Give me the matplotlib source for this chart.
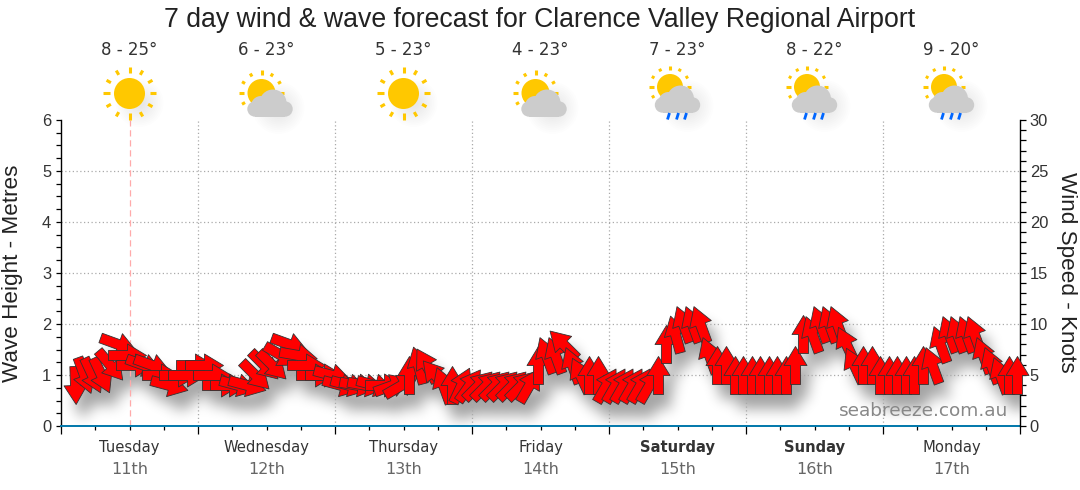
import numpy as np
import matplotlib
matplotlib.use("Agg")
import matplotlib.pyplot as plt
from matplotlib.font_manager import FontProperties
from matplotlib.markers import MarkerStyle
from matplotlib.path import Path
from matplotlib.patches import Circle, Rectangle
from matplotlib.transforms import Affine2D

TITLE = "7 day wind & wave forecast for Clarence Valley Regional Airport"
days = ["Tuesday", "Wednesday", "Thursday", "Friday", "Saturday", "Sunday", "Monday"]
dates = ["11th", "12th", "13th", "14th", "15th", "16th", "17th"]
temps = ["8 - 25°", "6 - 23°", "5 - 23°", "4 - 23°", "7 - 23°", "8 - 22°", "9 - 20°"]
icons = ["sun", "part", "sun", "part", "rain", "rain", "rain"]
bold_days = ["Saturday", "Sunday"]

first_hour = 2.5
step_hours = 1.5
wind_knots = [4, 5, 5, 5, 6, 8, 7, 6, 6, 6, 5, 4, 5, 5, 6, 6, 5, 4, 4, 4, 4, 5, 6, 6, 7, 8, 7, 6, 5, 5, 5, 4,
              4, 4, 4, 4, 4, 4, 4, 5, 6, 6, 5, 4, 4, 4, 4, 4, 4, 4, 4, 4, 4, 4, 6, 7, 7, 8, 6, 5, 5, 5, 4, 4,
              4, 4, 4, 4, 5, 8, 9, 10, 10, 10, 7, 6, 6, 5, 5, 5, 5, 5, 5, 5, 6, 9, 9, 10, 10, 10, 8, 6, 6, 6,
              5, 5, 5, 5, 5, 6, 6, 8, 9, 9, 9, 9, 7, 6, 5, 5, 5]
wind_heading = [178, 160, 155, 155, 140, 110, 90, 90, 110, 110, 90, 105, 90, 90, 90, 90, 90, 90, 90, 105, 105,
                135, 135, 135, 120, 110, 100, 90, 90, 90, 105, 105, 105, 100, 100, 105, 90, 70, 60, 0, 345,
                330, 320, 340, 0, 25, 35, 45, 45, 45, 45, 45, 45, 30, 0, 340, 340, 315, 340, 335, 0, 0, 30,
                30, 30, 30, 30, 30, 0, 0, 345, 340, 340, 340, 340, 0, 0, 0, 0, 0, 0, 0, 0, 0, 0, 0, 340, 340,
                340, 340, 335, 335, 0, 0, 0, 0, 0, 0, 0, 0, 340, 340, 340, 340, 340, 340, 340, 340, 340, 0, 0]
wave_hours = [0, 168]
wave_metres = [0, 0]

W, H = 1080, 490
L, R, T, B = 61, 1020, 120, 426
fig = plt.figure(figsize=(W / 100, H / 100), dpi=100, facecolor="white")
ax = fig.add_axes([L / W, 1 - B / H, (R - L) / W, (B - T) / H])
ax2 = ax.twinx()
ax.set_xlim(0, 168)
ax.set_ylim(0, 6)
ax2.set_ylim(0, 30)
px = 0.72

for a in (ax, ax2):
    for s in a.spines.values():
        s.set_visible(False)
    a.patch.set_visible(False)
ax.set_zorder(1)
ax2.set_zorder(2)
ax.spines["left"].set_visible(True)
ax.spines["left"].set_linewidth(1.0)
ax2.spines["right"].set_visible(True)
ax2.spines["right"].set_linewidth(1.0)

ax.set_yticks(np.arange(0, 7))
ax.set_yticks(np.arange(0, 6.01, 0.25), minor=True)
ax.tick_params(axis="y", which="both", length=5 * px * 1.1, width=0.9, pad=3)
ax2.set_yticks(np.arange(0, 31, 5))
ax2.set_yticks(np.arange(0, 31, 1), minor=True)
ax2.tick_params(axis="y", which="both", length=5 * px * 1.1, width=0.9, pad=3)
for lab in ax.get_yticklabels() + ax2.get_yticklabels():
    lab.set_fontproperties(FontProperties(family="Liberation Sans", size=16.5 * px))
    lab.set_color("#333333")

ax.set_xticks(np.arange(0, 169, 24))
ax.set_xticks(np.arange(0, 169, 6), minor=True)
ax.set_xticklabels([])
ax.tick_params(axis="x", which="major", length=8 * px, width=0.9)
ax.tick_params(axis="x", which="minor", length=4 * px, width=0.9)

for d in range(1, 7):
    ax.axvline(d * 24, color="#aaaaaa", lw=0.9, ls=(0, (1, 2)), zorder=2)
for m in range(1, 6):
    ax.axhline(m, color="#aaaaaa", lw=0.9, ls=(0, (1, 2)), zorder=2)
ax.axvline(12, color="#ffaaaa", lw=0.9, ls=(0, (5, 3)), zorder=2)
ax.plot(wave_hours, wave_metres, color="#0077aa", lw=1.4, zorder=3, clip_on=False)

# arrow outline, in pixels about its centre, pointing up
shape = np.array([(-5, -19), (5, -19), (5, 0), (11.5, 0), (0, 19), (-11.5, 0), (-5, 0), (-5, -19)])
arrow_path = Path(shape, closed=True)
hours = [first_hour + step_hours * i for i in range(len(wind_knots))]

# blurred shadow under the arrows
centres = ax2.transData.transform(np.column_stack([hours, wind_knots]))
mask = np.zeros((H, W))
yy, xx = np.mgrid[0:H, 0:W]
SHX, SHY = 8, 15
for (cx, cy), h in zip(centres, wind_heading):
    pts = Affine2D().rotate_deg(-h).transform(shape)
    pts = np.column_stack([pts[:, 0] + cx + SHX, (H - cy) + SHY - pts[:, 1]])
    x0, x1 = int(pts[:, 0].min()), int(pts[:, 0].max()) + 1
    y0, y1 = int(pts[:, 1].min()), int(pts[:, 1].max()) + 1
    x0, x1, y0, y1 = max(x0, 0), min(x1, W), max(y0, 0), min(y1, H)
    sub = np.column_stack([xx[y0:y1, x0:x1].ravel() + .5, yy[y0:y1, x0:x1].ravel() + .5])
    hit = Path(pts).contains_points(sub).reshape(y1 - y0, x1 - x0)
    mask[y0:y1, x0:x1] = np.maximum(mask[y0:y1, x0:x1], hit)


def blur(a, n, passes=3):
    k = np.ones(n) / n
    for _ in range(passes):
        a = np.apply_along_axis(lambda r: np.convolve(r, k, mode="same"), 0, a)
        a = np.apply_along_axis(lambda r: np.convolve(r, k, mode="same"), 1, a)
    return a


soft = blur(mask, 13)[T:B, L:R]
rgba = np.zeros(soft.shape + (4,))
rgba[..., 3] = soft * 0.36
ax.imshow(rgba, extent=(0, 168, 0, 6), aspect="auto", zorder=1, interpolation="bilinear")
ax.set_xlim(0, 168)
ax.set_ylim(0, 6)

for t, k, h in zip(hours, wind_knots, wind_heading):
    m = MarkerStyle(arrow_path).rotated(deg=-h)
    ax2.plot([t], [k], marker=m, ms=38 * px, mfc="#ff0000", mec="#333333", mew=0.6, ls="none",
             clip_on=False, zorder=5)

# overlay in pixel coordinates for text and icons
ov = fig.add_axes([0, 0, 1, 1], zorder=5)
ov.set_xlim(0, W)
ov.set_ylim(H, 0)
ov.axis("off")

ov.text(540, 20, TITLE, ha="center", va="center", family="Liberation Sans", size=26.6 * px, color="#222222")
ov.text(13, 273, "Wave Height - Metres", rotation=90, ha="center", va="center", family="Liberation Sans",
        size=22.5 * px, color="#222222")
ov.text(1067, 272, "Wind Speed - Knots", rotation=270, ha="center", va="center", family="Liberation Sans",
        size=22.5 * px, color="#222222")
ov.text(1008, 411, "seabreeze.com.au", ha="right", va="center", family="DejaVu Sans", size=18.45 * px,
        color="#888888")


def sun(cx, cy, r, r1, r2):
    for i in range(12):
        a = np.deg2rad(30 * i)
        rr = r1 if i % 3 == 0 else r1 + 1.5
        ov.plot([cx + rr * np.sin(a), cx + r2 * np.sin(a)], [cy - rr * np.cos(a), cy - r2 * np.cos(a)],
                color="#ffc800", lw=2.2, solid_capstyle="butt", zorder=3)
    ov.add_patch(Circle((cx, cy), r, fc="#ffc800", ec="none", zorder=3))


def cloud(cx, cy):
    for dx, dy, r in [(3, 3, 13.5), (-9, 6, 10), (-15, 9, 7.7), (15, 9, 7.7)]:
        ov.add_patch(Circle((cx + dx, cy + dy), r, fc="#cccccc", ec="none", zorder=4))
    ov.add_patch(Rectangle((cx - 15, cy + 6), 30, 10.7, fc="#cccccc", ec="none", zorder=4))


def soft_shadow(cx, cy, r):
    for f in np.linspace(1, 0.2, 12):
        ov.add_patch(Circle((cx, cy), r * f, fc="#000000", alpha=0.007, ec="none", zorder=2))


for i, kind in enumerate(icons):
    c = 61 + 137 * (i + 0.5)
    ov.text(c, 50, temps[i], ha="center", va="center", family="DejaVu Sans", size=16.6 * px, color="#333333")
    ov.text(c, 447, days[i], ha="center", va="center", family="DejaVu Sans", size=14.8 * px, color="#333333",
            weight="bold" if days[i] in bold_days else "normal")
    ov.text(c, 469, dates[i], ha="center", va="center", family="DejaVu Sans", size=16 * px, color="#666666")
    if kind == "sun":
        soft_shadow(c + 10, 103, 24)
        sun(c, 93.5, 15.5, 20, 26.5)
    elif kind == "part":
        soft_shadow(c + 12, 108, 26)
        sun(c - 5, 93, 14, 17.5, 22.5)
        cloud(c + 3.5, 100)
    else:
        soft_shadow(c + 10, 106, 26)
        sun(c - 7.5, 87, 13, 16.5, 21)
        cloud(c, 96)
        for dx in (-9, 0, 8):
            ov.plot([c + dx + 1, c + dx - 1], [113, 119.5], color="#0066ff", lw=2, solid_capstyle="butt", zorder=4)

fig.savefig("out.png", dpi=100, facecolor="white")
